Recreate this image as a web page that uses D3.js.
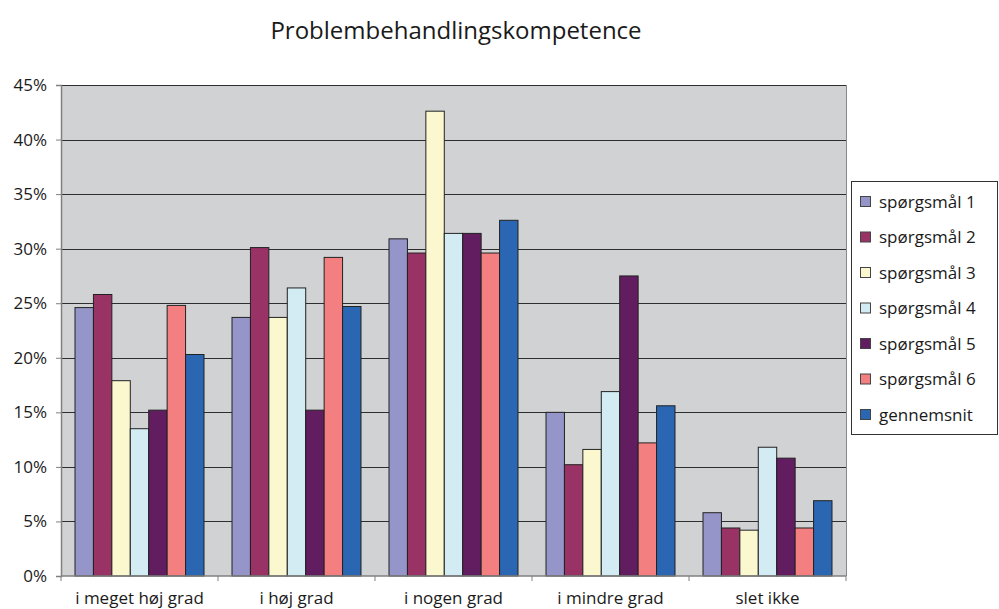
<!DOCTYPE html>
<html>
<head>
<meta charset="utf-8">
<script src="https://cdn.jsdelivr.net/npm/d3@7"></script>
<style>
  body { margin: 0; background: #fff; }
  svg text { font-family: "Open Sans", Lato, sans-serif; fill: #1a1a1a; }
</style>
</head>
<body>
<div id="main-container"></div>
<script>
const categories = ["i meget høj grad", "i høj grad", "i nogen grad", "i mindre grad", "slet ikke"];
const seriesNames = ["spørgsmål 1", "spørgsmål 2", "spørgsmål 3", "spørgsmål 4", "spørgsmål 5", "spørgsmål 6", "gennemsnit"];
const seriesColors = ["#9595c9", "#993366", "#fbf8cf", "#d3ebf3", "#621d60", "#f47f80", "#2a66b1"];
// one array per series, values in % for each category
const sp1 = [24.6, 23.7, 30.9, 15.0, 5.8];
const sp2 = [25.8, 30.1, 29.6, 10.2, 4.4];
const sp3 = [17.9, 23.7, 42.6, 11.6, 4.2];
const sp4 = [13.5, 26.4, 31.4, 16.9, 11.8];
const sp5 = [15.2, 15.2, 31.4, 27.5, 10.8];
const sp6 = [24.8, 29.2, 29.6, 12.2, 4.4];
const avg = [20.3, 24.7, 32.6, 15.6, 6.9];
const yTicks = [0, 5, 10, 15, 20, 25, 30, 35, 40, 45];
const title = "Problembehandlingskompetence";

const seriesValues = [sp1, sp2, sp3, sp4, sp5, sp6, avg];

const width = 999, height = 609;
const plot = {left: 61, right: 846, top: 85, bottom: 576};

const svg = d3.select("#main-container")
              .append("svg")
              .attr("width", width)
              .attr("height", height);

svg.append("text")
   .attr("x", 456)
   .attr("y", 39)
   .attr("text-anchor", "middle")
   .style("font-size", "24px")
   .text(title);

const x0 = d3.scaleBand().domain(categories).range([plot.left, plot.right]);
const x1 = d3.scaleBand().domain(seriesNames).range([0, x0.bandwidth()]).paddingOuter(0.76);
const y = d3.scaleLinear().domain([0, 45]).range([plot.bottom, plot.top]);

// plot background
svg.append("rect")
   .attr("x", plot.left).attr("y", plot.top)
   .attr("width", plot.right - plot.left).attr("height", plot.bottom - plot.top)
   .attr("fill", "#d1d2d4");

// gridlines
svg.append("g")
   .selectAll("line")
   .data(yTicks.slice(1))
   .enter().append("line")
   .attr("x1", plot.left).attr("x2", plot.right)
   .attr("y1", d => Math.round(y(d)) + 0.5).attr("y2", d => Math.round(y(d)) + 0.5)
   .attr("stroke", "#2e2e2e");

// right border of plot
svg.append("line")
   .attr("x1", plot.right + 0.5).attr("x2", plot.right + 0.5)
   .attr("y1", plot.top).attr("y2", plot.bottom)
   .attr("stroke", "#888");

// bars
const rows = categories.map((c, i) => ({cat: c, vals: seriesNames.map((s, j) => ({name: s, value: seriesValues[j][i], color: seriesColors[j]}))}));

const groups = svg.append("g")
                  .selectAll("g")
                  .data(rows)
                  .enter().append("g")
                  .attr("transform", d => `translate(${x0(d.cat)},0)`);

groups.selectAll("rect")
      .data(d => d.vals)
      .enter().append("rect")
      .attr("x", d => x1(d.name))
      .attr("y", d => y(d.value))
      .attr("width", x1.bandwidth())
      .attr("height", d => y(0) - y(d.value))
      .attr("fill", d => d.color)
      .attr("stroke", "#222")
      .attr("stroke-width", 1);

// y axis
const yAxis = d3.axisLeft(y)
                .tickValues(yTicks)
                .tickFormat(d => d + "%")
                .tickSize(5)
                .tickPadding(9);
const gy = svg.append("g")
              .attr("transform", `translate(${plot.left},0)`)
              .call(yAxis);
gy.select(".domain").attr("stroke", "#808080").attr("stroke-width", 1.5);
gy.selectAll(".tick line").attr("stroke", "#808080");
gy.selectAll(".tick text").style("font-size", "17px").style("font-family", "'Open Sans', sans-serif").attr("fill", "#1a1a1a");

// x axis: ticks on category boundaries
const gx = svg.append("g")
              .attr("transform", `translate(0,${plot.bottom})`);
gx.append("line")
  .attr("x1", plot.left).attr("x2", plot.right)
  .attr("stroke", "#808080").attr("stroke-width", 1.5);
const boundaries = categories.map(c => x0(c)).concat([plot.right]);
gx.selectAll(".bt")
  .data(boundaries)
  .enter().append("line")
  .attr("class", "bt")
  .attr("x1", d => d).attr("x2", d => d)
  .attr("y1", 0).attr("y2", 5)
  .attr("stroke", "#808080");
gx.selectAll("text")
  .data(categories)
  .enter().append("text")
  .attr("x", d => x0(d) + x0.bandwidth() / 2)
  .attr("y", 28)
  .attr("text-anchor", "middle")
  .style("font-size", "17px")
  .text(d => d);

// legend
const legend = svg.append("g").attr("transform", "translate(851,181)");
legend.append("rect")
      .attr("x", 0.5).attr("y", 0.5)
      .attr("width", 146).attr("height", 253)
      .attr("fill", "#fff")
      .attr("stroke", "#333");
const items = legend.selectAll(".item")
                    .data(seriesNames)
                    .enter().append("g")
                    .attr("class", "item")
                    .attr("transform", (d, i) => `translate(9,${21 + i * 35.5})`);
items.append("rect")
     .attr("x", 0.5).attr("y", -5.5)
     .attr("width", 10).attr("height", 10)
     .attr("fill", (d, i) => seriesColors[i])
     .attr("stroke", "#444");
items.append("text")
     .attr("x", 19)
     .attr("y", 0)
     .attr("dy", "0.35em")
     .style("font-size", "17px")
     .text(d => d);
</script>
</body>
</html>
